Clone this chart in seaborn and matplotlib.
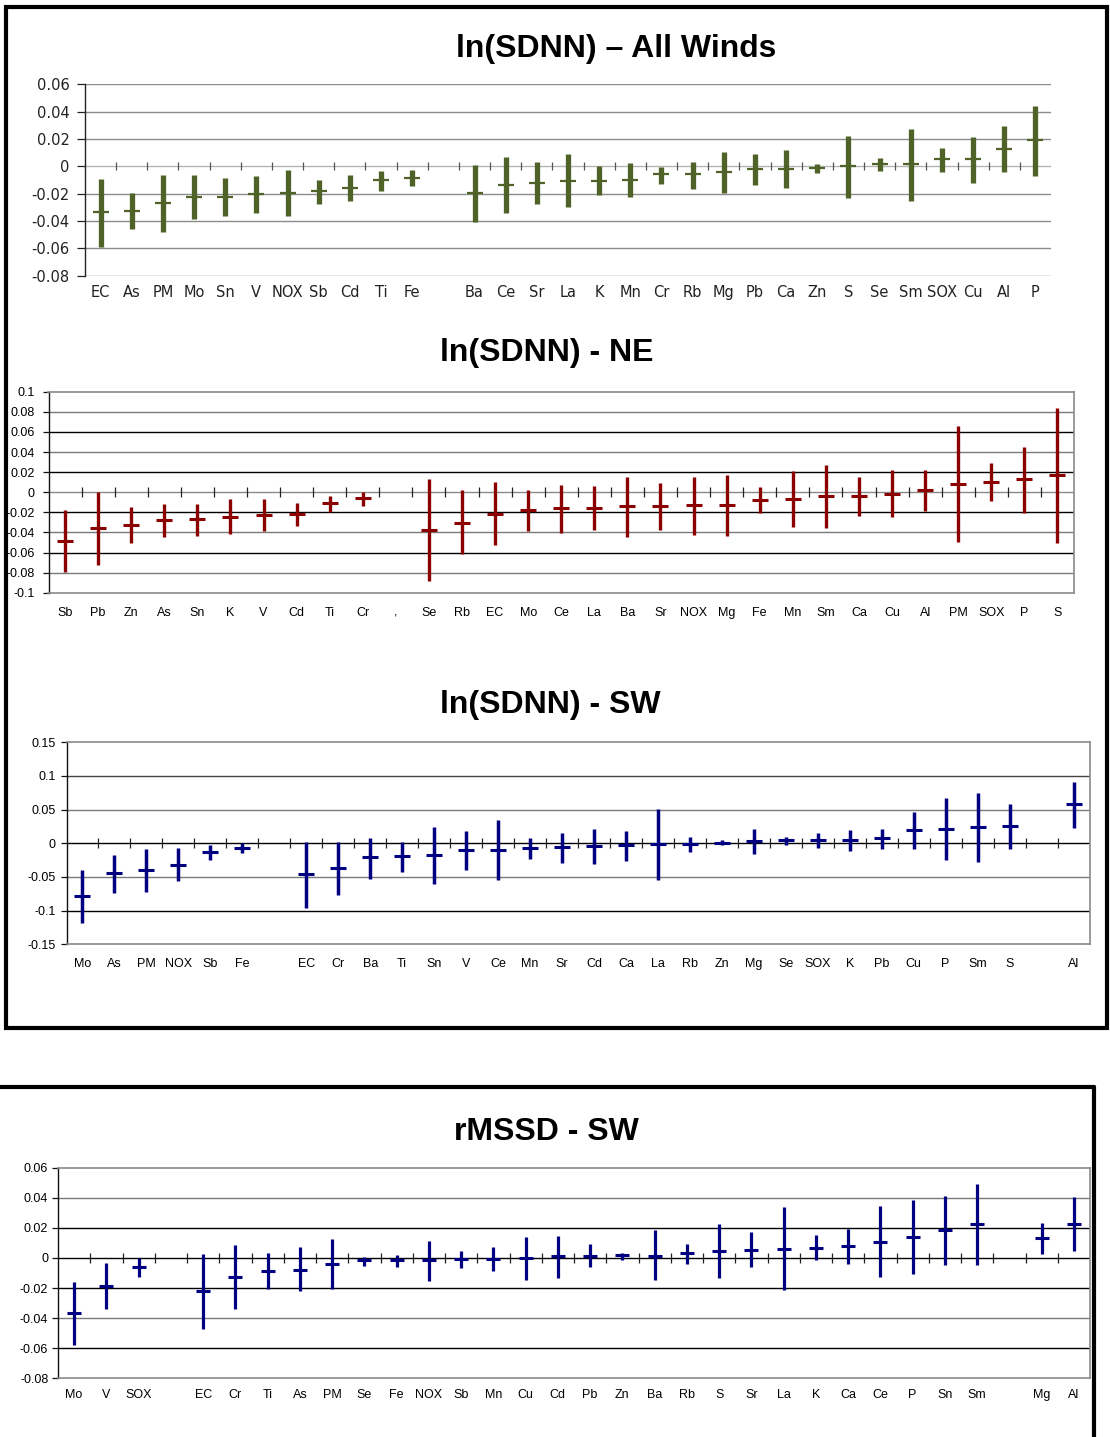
import numpy as np
import pandas as pd
import matplotlib
matplotlib.use("Agg")
import matplotlib.pyplot as plt
from matplotlib.patches import Rectangle
from matplotlib.lines import Line2D
import seaborn as sns

# ---------------- data ----------------
# ln(SDNN) - All Winds
aw_order = ["EC", "As", "PM", "Mo", "Sn", "V", "NOX", "Sb", "Cd", "Ti", "Fe", " ",
            "Ba", "Ce", "Sr", "La", "K", "Mn", "Cr", "Rb", "Mg", "Pb", "Ca", "Zn",
            "S", "Se", "Sm", "SOX", "Cu", "Al", "P"]
aw_elements = ["EC", "As", "PM", "Mo", "Sn", "V", "NOX", "Sb", "Cd", "Ti", "Fe",
               "Ba", "Ce", "Sr", "La", "K", "Mn", "Cr", "Rb", "Mg", "Pb", "Ca", "Zn",
               "S", "Se", "Sm", "SOX", "Cu", "Al", "P"]
aw_mean = [-0.0337, -0.0324, -0.0268, -0.0227, -0.0222, -0.0202, -0.0195, -0.0183,
           -0.0161, -0.0102, -0.0085,
           -0.0195, -0.0134, -0.0120, -0.0105, -0.0105, -0.0100, -0.0059, -0.0059,
           -0.0041, -0.0020, -0.0020, -0.0015, 0.0005, 0.0015, 0.0020, 0.0051,
           0.0056, 0.0129, 0.0190]
aw_low = [-0.0590, -0.0460, -0.0480, -0.0388, -0.0363, -0.0340, -0.0363, -0.0276,
          -0.0256, -0.0180, -0.0146,
          -0.0407, -0.0339, -0.0276, -0.0300, -0.0207, -0.0222, -0.0127, -0.0163,
          -0.0198, -0.0137, -0.0159, -0.0050, -0.0232, -0.0032, -0.0251, -0.0039,
          -0.0120, -0.0041, -0.0071]
aw_high = [-0.0095, -0.0193, -0.0060, -0.0060, -0.0083, -0.0070, -0.0027, -0.0100,
           -0.0060, -0.0032, -0.0027,
           0.0007, 0.0068, 0.0032, 0.0088, 0.0000, 0.0024, -0.0007, 0.0034,
           0.0107, 0.0090, 0.0117, 0.0020, 0.0224, 0.0061, 0.0273, 0.0137,
           0.0217, 0.0293, 0.0441]
aw_yticks = [0.06, 0.04, 0.02, 0.0, -0.02, -0.04, -0.06, -0.08]
aw_yticklabels = ["0.06", "0.04", "0.02", "0", "-0.02", "-0.04", "-0.06", "-0.08"]

# ln(SDNN) - NE
ne_order = ["Sb", "Pb", "Zn", "As", "Sn", "K", "V", "Cd", "Ti", "Cr", ",",
            "Se", "Rb", "EC", "Mo", "Ce", "La", "Ba", "Sr", "NOX", "Mg", "Fe", "Mn",
            "Sm", "Ca", "Cu", "Al", "PM", "SOX", "P", "S"]
ne_elements = ["Sb", "Pb", "Zn", "As", "Sn", "K", "V", "Cd", "Ti", "Cr",
               "Se", "Rb", "EC", "Mo", "Ce", "La", "Ba", "Sr", "NOX", "Mg", "Fe", "Mn",
               "Sm", "Ca", "Cu", "Al", "PM", "SOX", "P", "S"]
ne_mean = [-0.0484, -0.0355, -0.0325, -0.0279, -0.0265, -0.0245, -0.0226, -0.0216,
           -0.0106, -0.0056,
           -0.0375, -0.0302, -0.0212, -0.0182, -0.0159, -0.0159, -0.0136, -0.0136,
           -0.0129, -0.0129, -0.0076, -0.0063, -0.0036, -0.0036, -0.0013, 0.0023,
           0.0083, 0.0106, 0.0129, 0.0172]
ne_low = [-0.0790, -0.0723, -0.0507, -0.0441, -0.0431, -0.0418, -0.0391, -0.0335,
          -0.0196, -0.0133,
          -0.0882, -0.0614, -0.0527, -0.0391, -0.0408, -0.0381, -0.0444, -0.0381,
          -0.0421, -0.0431, -0.0209, -0.0345, -0.0358, -0.0232, -0.0249, -0.0186,
          -0.0497, -0.0090, -0.0209, -0.0507]
ne_high = [-0.0182, 0.0000, -0.0146, -0.0116, -0.0116, -0.0070, -0.0070, -0.0106,
           -0.0033, 0.0000,
           0.0129, 0.0017, 0.0100, 0.0017, 0.0070, 0.0060, 0.0156, 0.0090,
           0.0156, 0.0169, 0.0056, 0.0212, 0.0275, 0.0156, 0.0222, 0.0222,
           0.0660, 0.0295, 0.0454, 0.0842]
ne_yticks = [0.1, 0.08, 0.06, 0.04, 0.02, 0.0, -0.02, -0.04, -0.06, -0.08, -0.1]
ne_yticklabels = ["0.1", "0.08", "0.06", "0.04", "0.02", "0", "-0.02", "-0.04",
                  "-0.06", "-0.08", "-0.1"]

# ln(SDNN) - SW
sw_order = ["Mo", "As", "PM", "NOX", "Sb", "Fe", " ",
            "EC", "Cr", "Ba", "Ti", "Sn", "V", "Ce", "Mn", "Sr", "Cd", "Ca", "La",
            "Rb", "Zn", "Mg", "Se", "SOX", "K", "Pb", "Cu", "P", "Sm", "S", "  ", "Al"]
sw_elements = ["Mo", "As", "PM", "NOX", "Sb", "Fe",
               "EC", "Cr", "Ba", "Ti", "Sn", "V", "Ce", "Mn", "Sr", "Cd", "Ca", "La",
               "Rb", "Zn", "Mg", "Se", "SOX", "K", "Pb", "Cu", "P", "Sm", "S", "Al"]
sw_mean = [-0.0782, -0.0446, -0.0396, -0.0317, -0.0124, -0.0074,
           -0.0460, -0.0366, -0.0203, -0.0188, -0.0173, -0.0094, -0.0094, -0.0069,
           -0.0054, -0.0045, -0.0025, -0.0015, -0.0015, 0.0003, 0.0035, 0.0054,
           0.0054, 0.0054, 0.0084, 0.0198, 0.0213, 0.0243, 0.0257, 0.0584]
sw_low = [-0.1178, -0.0733, -0.0718, -0.0554, -0.0248, -0.0149,
          -0.0955, -0.0762, -0.0525, -0.0426, -0.0604, -0.0396, -0.0545, -0.0238,
          -0.0287, -0.0307, -0.0257, -0.0545, -0.0129, -0.0030, -0.0163, -0.0025,
          -0.0074, -0.0119, -0.0079, -0.0079, -0.0248, -0.0277, -0.0084, 0.0223]
sw_high = [-0.0396, -0.0173, -0.0089, -0.0074, -0.0025, 0.0000,
           0.0015, 0.0020, 0.0084, 0.0020, 0.0248, 0.0188, 0.0347, 0.0074,
           0.0149, 0.0213, 0.0188, 0.0505, 0.0099, 0.0050, 0.0213, 0.0099,
           0.0149, 0.0203, 0.0213, 0.0460, 0.0668, 0.0752, 0.0589, 0.0916]
sw_yticks = [0.15, 0.1, 0.05, 0.0, -0.05, -0.1, -0.15]
sw_yticklabels = ["0.15", "0.1", "0.05", "0", "-0.05", "-0.1", "-0.15"]

# rMSSD - SW
rm_order = ["Mo", "V", "SOX", " ",
            "EC", "Cr", "Ti", "As", "PM", "Se", "Fe", "NOX", "Sb", "Mn", "Cu", "Cd",
            "Pb", "Zn", "Ba", "Rb", "S", "Sr", "La", "K", "Ca", "Ce", "P", "Sn", "Sm",
            "  ", "Mg", "Al"]
rm_elements = ["Mo", "V", "SOX",
               "EC", "Cr", "Ti", "As", "PM", "Se", "Fe", "NOX", "Sb", "Mn", "Cu", "Cd",
               "Pb", "Zn", "Ba", "Rb", "S", "Sr", "La", "K", "Ca", "Ce", "P", "Sn", "Sm",
               "Mg", "Al"]
rm_mean = [-0.0363, -0.0184, -0.0060,
           -0.0217, -0.0124, -0.0086, -0.0077, -0.0038, -0.0013, -0.0015, -0.0015,
           -0.0007, -0.0007, 0.0000, 0.0011, 0.0015, 0.0018, 0.0015, 0.0031, 0.0044,
           0.0055, 0.0062, 0.0069, 0.0077, 0.0108, 0.0142, 0.0188, 0.0226,
           0.0131, 0.0226]
rm_low = [-0.0580, -0.0336, -0.0128,
          -0.0469, -0.0338, -0.0208, -0.0221, -0.0206, -0.0051, -0.0062, -0.0150,
          -0.0066, -0.0084, -0.0146, -0.0133, -0.0062, -0.0013, -0.0148, -0.0038,
          -0.0133, -0.0062, -0.0210, -0.0015, -0.0040, -0.0124, -0.0104, -0.0046,
          -0.0046, 0.0029, 0.0046]
rm_high = [-0.0159, -0.0035, 0.0000,
           0.0027, 0.0088, 0.0033, 0.0073, 0.0126, 0.0009, 0.0020, 0.0111,
           0.0049, 0.0071, 0.0137, 0.0146, 0.0091, 0.0035, 0.0184, 0.0091, 0.0223,
           0.0175, 0.0338, 0.0153, 0.0192, 0.0343, 0.0383, 0.0409, 0.0491,
           0.0230, 0.0407]
rm_yticks = [0.06, 0.04, 0.02, 0.0, -0.02, -0.04, -0.06, -0.08]
rm_yticklabels = ["0.06", "0.04", "0.02", "0", "-0.02", "-0.04", "-0.06", "-0.08"]

titles = ["ln(SDNN) \u2013 All Winds", "ln(SDNN) - NE", "ln(SDNN) - SW", "rMSSD - SW"]

# ---------------- style ----------------
sns.set_theme(style="white")
plt.rcParams["font.family"] = ["Liberation Sans", "DejaVu Sans"]
plt.rcParams["text.color"] = "black"
plt.rcParams["xtick.color"] = "black"
plt.rcParams["ytick.color"] = "black"
plt.rcParams["xtick.labelcolor"] = "black"
plt.rcParams["ytick.labelcolor"] = "black"

W, H = 1110, 1437
fig = plt.figure(figsize=(W / 100, H / 100), dpi=100)
fig.patch.set_facecolor("white")


def px_axes(x0, x1, ytop, ybot):
    return fig.add_axes([x0 / W, 1 - ybot / H, (x1 - x0) / W, (ybot - ytop) / H])


def long_frame(elements, low, mean, high):
    rows = []
    for e, lo, m, hi in zip(elements, low, mean, high):
        for v in (lo, m, hi):
            rows.append({"element": e, "value": v})
    return pd.DataFrame(rows)


def draw_panel(ax, elements, low, mean, high, order, color, bar_lw, cap_size, cap_ew):
    df = long_frame(elements, low, mean, high)
    # median of (low, mean, high) is the mean; the 100% interval spans low..high
    sns.pointplot(data=df, x="element", y="value", order=order,
                  estimator="median", errorbar=("pi", 100),
                  color=color, marker="_", linestyle="none",
                  markersize=cap_size, markeredgewidth=cap_ew,
                  err_kws={"linewidth": bar_lw, "solid_capstyle": "butt"},
                  ax=ax)
    ax.set_xlabel("")
    ax.set_ylabel("")
    ax.set_xlim(-0.5, len(order) - 0.5)


def zero_ticks(ax, n, color, size):
    xs = np.arange(n - 1) + 0.5
    ax.plot(xs, np.zeros_like(xs), ls="none", marker="|", color=color,
            markersize=size, markeredgewidth=0.9, zorder=1.5)


# ---------- Panel 1: All Winds ----------
ax1 = px_axes(85, 1051, 84.3, 275.7)
for yv in aw_yticks:
    ax1.axhline(yv, color="#8c8c8c" if yv != 0 else "#b5b5b5", lw=1.0, zorder=0.5)
draw_panel(ax1, aw_elements, aw_low, aw_mean, aw_high, aw_order,
           "#4f6228", 3.8, 11, 1.6)
ax1.set_ylim(-0.08, 0.06)
ax1.set_yticks(aw_yticks)
ax1.set_yticklabels(aw_yticklabels)
zero_ticks(ax1, len(aw_order), "#555555", 5.5)
for s in ["top", "right", "bottom"]:
    ax1.spines[s].set_visible(False)
ax1.spines["left"].set_color("#222222")
ax1.spines["left"].set_linewidth(1.0)
ax1.tick_params(axis="y", length=6, width=0.9, color="#222222", pad=5, left=True,
                labelsize=10.5, labelfontfamily="DejaVu Sans", labelcolor="#222222")
ax1.tick_params(axis="x", length=0, pad=7, labelsize=10.5,
                labelfontfamily="DejaVu Sans", labelcolor="#222222")


# ---------- framed panels ----------
def framed(ax, yticks, ylabels, grid_cols):
    for yv, c in zip(yticks, grid_cols):
        if c is not None:
            ax.axhline(yv, color=c, lw=1.0, zorder=0.5)
    ax.set_ylim(min(yticks), max(yticks))
    ax.set_yticks(yticks)
    ax.set_yticklabels(ylabels)
    for s in ["top", "right", "bottom"]:
        ax.spines[s].set_visible(True)
        ax.spines[s].set_color("#8a8a8a")
        ax.spines[s].set_linewidth(1.2)
    ax.spines["left"].set_visible(True)
    ax.spines["left"].set_color("#111111")
    ax.spines["left"].set_linewidth(1.0)
    ax.tick_params(axis="x", length=0, labelsize=9,
                   labelfontfamily="Liberation Sans")
    ax.tick_params(axis="y", labelsize=9, labelfontfamily="Liberation Sans")


# Panel 2: NE
ax2 = px_axes(48.5, 1074, 391.7, 592.7)
draw_panel(ax2, ne_elements, ne_low, ne_mean, ne_high, ne_order,
           "#8b0000", 2.4, 11, 2.2)
framed(ax2, ne_yticks, ne_yticklabels,
       [None, "#7a7a7a", "#000000", "#7a7a7a", "#000000", "#8a8a8a",
        "#000000", "#7a7a7a", "#000000", "#7a7a7a", None])
zero_ticks(ax2, len(ne_order), "#222222", 7)
ax2.tick_params(axis="y", length=4, width=0.9, color="#111111", pad=6, left=True)
ax2.tick_params(axis="x", pad=10)

# Panel 3: SW
ax3 = px_axes(66.5, 1089.5, 742.3, 944.3)
draw_panel(ax3, sw_elements, sw_low, sw_mean, sw_high, sw_order,
           "#000080", 2.5, 11, 2.2)
framed(ax3, sw_yticks, sw_yticklabels,
       [None, "#444444", "#7a7a7a", "#000000", "#7a7a7a", "#000000", None])
zero_ticks(ax3, len(sw_order), "#222222", 7)
ax3.tick_params(axis="y", length=4, width=0.9, color="#111111", pad=4, left=True)
ax3.tick_params(axis="x", pad=10)

# Panel 4: rMSSD SW
ax4 = px_axes(58, 1090, 1167.7, 1378.3)
draw_panel(ax4, rm_elements, rm_low, rm_mean, rm_high, rm_order,
           "#000080", 2.3, 10, 2.2)
framed(ax4, rm_yticks, rm_yticklabels,
       [None, "#7a7a7a", "#000000", "#000000", "#000000", "#7a7a7a", "#000000", None])
zero_ticks(ax4, len(rm_order), "#222222", 7)
ax4.tick_params(axis="y", length=4, width=0.9, color="#111111", pad=3, left=True)
ax4.tick_params(axis="x", pad=8)

# ---------- titles ----------
title_pos = [(616, 49), (547, 353), (550, 705), (546, 1132)]
for t, (tx, ty) in zip(titles, title_pos):
    fig.text(tx / W, 1 - ty / H, t, ha="center", va="center", color="black",
             fontsize=23, fontweight="bold", family="Liberation Sans")

# ---------- outer frames ----------
fig.add_artist(Rectangle((6 / W, 1 - 1028 / H), (1107 - 6) / W, (1028 - 7) / H,
                         transform=fig.transFigure, fill=False,
                         edgecolor="black", linewidth=3.0))
fig.add_artist(Line2D([-0.01, 1094 / W], [1 - 1087 / H, 1 - 1087 / H],
                      transform=fig.transFigure, color="black", linewidth=3.0))
fig.add_artist(Line2D([1094 / W, 1094 / W], [1 - 1087 / H, -0.01],
                      transform=fig.transFigure, color="black", linewidth=3.0))

fig.savefig("out.png", dpi=100, facecolor="white")
